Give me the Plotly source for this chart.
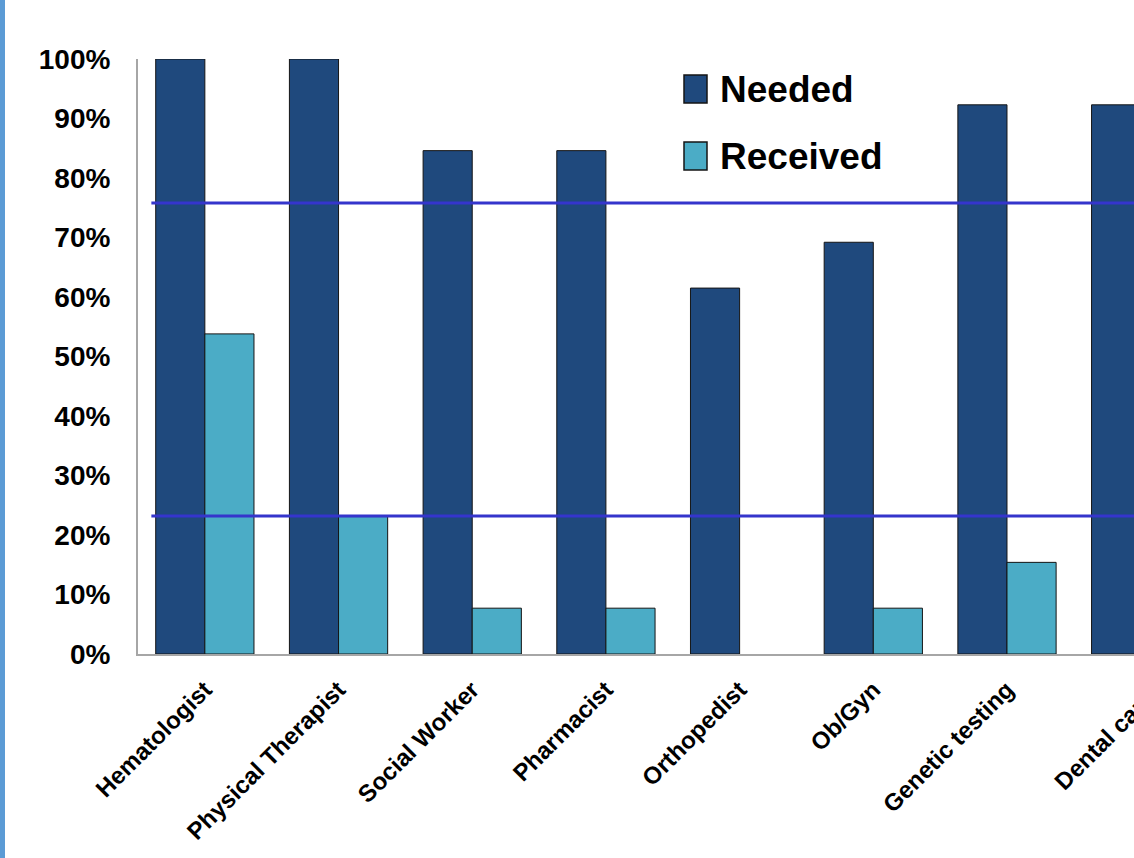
import plotly.graph_objects as go

# ---- data ----
categories = ["Hematologist", "Physical Therapist", "Social Worker", "Pharmacist",
              "Orthopedist", "Ob/Gyn", "Genetic testing", "Dental care"]
needed = [100.0, 100.0, 84.6, 84.6, 61.5, 69.2, 92.3, 92.3]
received = [53.8, 23.1, 7.7, 7.7, 0.0, 7.7, 15.4, 0.0]
series_names = ["Needed", "Received"]
reference_lines = [75.8, 23.2]
y_ticks = [0, 10, 20, 30, 40, 50, 60, 70, 80, 90, 100]

# ---- style ----
W, H = 1134, 858
ML, MR, MT, MB = 138, 0, 59, 204
C_NEEDED = "#1F497D"
C_RECEIVED = "#4BACC6"
FONT = "Liberation Sans, Arial, sans-serif"
X_RANGE = [-0.5, 6.95]

pw = W - ML - MR
ph = H - MT - MB


def px_x(p):
    return (p - ML) / pw


def px_y(p):
    return (H - MB - p) / ph


def outline_widths(vals):
    return [1 if v > 0 else 0 for v in vals]


fig = go.Figure()
fig.add_trace(go.Bar(x=list(range(len(categories))), y=needed, name=series_names[0],
                     marker=dict(color=C_NEEDED,
                                 line=dict(color="#151515", width=outline_widths(needed))),
                     showlegend=False))
fig.add_trace(go.Bar(x=list(range(len(categories))), y=received, name=series_names[1],
                     marker=dict(color=C_RECEIVED,
                                 line=dict(color="#151515", width=outline_widths(received))),
                     showlegend=False))

shapes = []
for v in reference_lines:
    shapes.append(dict(type="line", xref="x", yref="y", x0=-0.4, x1=8, y0=v, y1=v,
                       line=dict(color="#3535CC", width=3), layer="above"))
# left blue border of slide
shapes.append(dict(type="rect", xref="paper", yref="paper",
                   x0=px_x(0), x1=px_x(5), y0=px_y(H + 5), y1=px_y(-5),
                   fillcolor="#5B9BD5", line=dict(width=0), layer="above"))

# manual legend
legend_rows = [(C_NEEDED, 75, 103), (C_RECEIVED, 142, 170)]
annotations = []
for name, (col, y0, y1) in zip(series_names, legend_rows):
    shapes.append(dict(type="rect", xref="paper", yref="paper",
                       x0=px_x(684), x1=px_x(707), y0=px_y(y1), y1=px_y(y0),
                       fillcolor=col, line=dict(color="#151515", width=1.5)))
    annotations.append(dict(xref="paper", yref="paper", x=px_x(718), y=px_y((y0 + y1) / 2),
                            text=name, showarrow=False, xanchor="left", yanchor="middle",
                            font=dict(family=FONT, size=37, color="#000000", weight="bold")))

# tick label for the category that lies past the visible edge
last = len(categories) - 1
annotations.append(dict(xref="paper", yref="paper",
                        x=(last - X_RANGE[0]) / (X_RANGE[1] - X_RANGE[0]) + 22 / pw,
                        y=px_y(682), text=categories[last], showarrow=False,
                        xanchor="right", yanchor="top", textangle=-45,
                        font=dict(family=FONT, size=24, color="#000000", weight="bold")))

fig.update_layout(
    width=W, height=H,
    margin=dict(l=ML, r=MR, t=MT, b=MB, autoexpand=False),
    paper_bgcolor="white", plot_bgcolor="white",
    barmode="group", bargap=0.265, bargroupgap=0,
    shapes=shapes, annotations=annotations,
    xaxis=dict(range=X_RANGE, tickmode="array", tickvals=list(range(len(categories))),
               ticktext=categories, tickangle=-45, showgrid=False, zeroline=False,
               showline=True, linecolor="#A6A6A6", linewidth=2, ticks="",
               ticklabelstandoff=10, automargin=False,
               tickfont=dict(family=FONT, size=24, color="#000000", weight="bold")),
    yaxis=dict(range=[0, 100], tickmode="array", tickvals=y_ticks,
               ticktext=[f"{t}%" for t in y_ticks], showgrid=False, zeroline=False,
               showline=True, linecolor="#A6A6A6", linewidth=2, ticks="",
               ticklabelstandoff=20, automargin=False,
               tickfont=dict(family=FONT, size=28, color="#000000", weight="bold")),
)

fig.write_html("out.html")
